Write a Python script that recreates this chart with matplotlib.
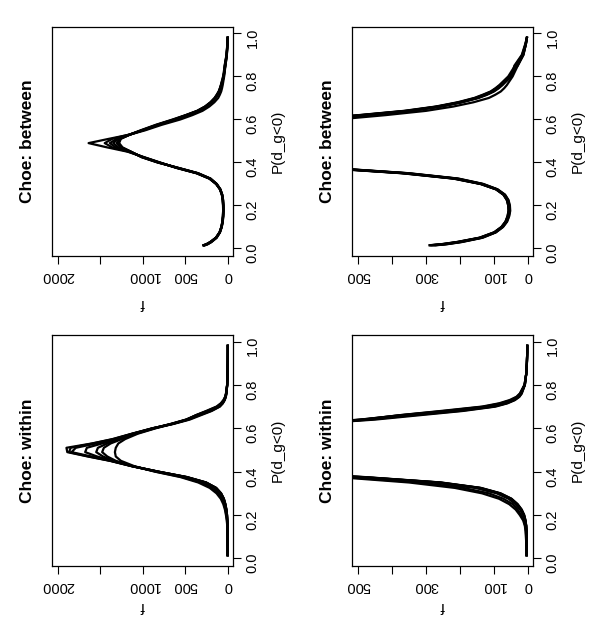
import matplotlib
matplotlib.use("Agg")
import matplotlib.pyplot as plt

plt.rcParams["font.family"] = ["Liberation Sans", "DejaVu Sans"]

# probability grid shared by all curves
p_grid = [0.015, 0.02, 0.03, 0.05, 0.075, 0.10, 0.125, 0.15, 0.175, 0.20, 0.225, 0.25,
          0.275, 0.30, 0.325, 0.35, 0.375, 0.40, 0.425, 0.45, 0.47, 0.49, 0.51, 0.53,
          0.55, 0.575, 0.60, 0.62, 0.64, 0.66, 0.68, 0.70, 0.715, 0.73, 0.745, 0.76,
          0.80, 0.85, 0.90, 0.95, 0.98]

# Choe: between
b1 = [290, 255, 210, 143, 100, 78, 66, 60, 57, 58, 62, 72, 94, 140, 220, 372, 610, 800,
      990, 1180, 1420, 1640, 1400, 1150, 970, 780, 560, 420, 300, 220, 160, 115, 96, 80,
      70, 62, 45, 30, 13, 6, 3]
b2 = [288, 253, 208, 142, 99, 78, 66, 60, 57, 58, 62, 72, 94, 139, 218, 369, 606, 805,
      995, 1170, 1360, 1450, 1360, 1160, 990, 810, 610, 475, 345, 255, 195, 148, 123, 102,
      88, 76, 50, 36, 15, 6, 3]
b3 = [285, 250, 205, 140, 98, 77, 65, 59, 56, 57, 61, 71, 93, 138, 215, 365, 600, 810,
      1000, 1160, 1320, 1390, 1310, 1155, 1000, 820, 620, 480, 345, 260, 195, 145, 120, 100,
      86, 75, 50, 32, 14, 6, 3]
b4 = [282, 247, 203, 139, 97, 76, 64, 58, 55, 56, 60, 70, 92, 137, 213, 362, 596, 815,
      1005, 1150, 1290, 1350, 1290, 1150, 1005, 825, 625, 485, 350, 262, 198, 150, 125, 104,
      90, 78, 52, 34, 16, 7, 3]
b5 = [278, 244, 200, 137, 96, 75, 63, 57, 54, 55, 59, 69, 91, 135, 210, 358, 592, 820,
      1010, 1145, 1265, 1310, 1275, 1150, 1010, 830, 630, 490, 355, 265, 200, 152, 127, 106,
      92, 80, 48, 40, 18, 8, 3]
b6 = [274, 240, 197, 135, 95, 74, 62, 56, 53, 54, 58, 68, 90, 133, 207, 354, 588, 825,
      1015, 1140, 1250, 1290, 1265, 1150, 1015, 840, 640, 495, 360, 268, 203, 155, 130, 108,
      94, 82, 55, 30, 14, 6, 3]
b7 = [270, 237, 194, 133, 94, 73, 61, 55, 52, 53, 57, 67, 89, 131, 204, 350, 584, 830,
      1020, 1140, 1240, 1280, 1260, 1155, 1025, 850, 650, 500, 365, 272, 207, 158, 133, 110,
      96, 84, 58, 38, 17, 7, 3]
between_curves = [b1, b2, b3, b4, b5, b6, b7]

# Choe: within
w1 = [3, 3, 3, 3, 3, 4, 4, 5, 7, 11, 18, 30, 48, 80, 138, 255, 480, 820, 1130, 1390,
      1650, 1890, 1900, 1600, 1360, 1130, 890, 640, 450, 320, 190, 95, 60, 38, 25, 18,
      9, 5, 3, 2, 2]
w2 = [3, 3, 3, 3, 4, 4, 4, 5, 7, 11, 19, 31, 49, 82, 140, 258, 485, 820, 1130, 1385,
      1640, 1870, 1850, 1590, 1350, 1125, 885, 655, 465, 338, 200, 100, 63, 40, 26, 19,
      9, 5, 3, 2, 2]
w3 = [4, 4, 4, 4, 4, 4, 4, 5, 8, 12, 20, 32, 50, 84, 142, 262, 490, 820, 1125, 1375,
      1610, 1840, 1790, 1550, 1330, 1120, 882, 662, 475, 352, 212, 105, 66, 42, 28, 20,
      9, 5, 3, 2, 2]
w4 = [4, 4, 4, 4, 4, 4, 4, 5, 8, 12, 20, 33, 52, 85, 145, 265, 495, 820, 1120, 1360,
      1540, 1680, 1660, 1480, 1300, 1110, 880, 670, 485, 362, 225, 112, 70, 44, 29, 21,
      9, 5, 3, 2, 2]
w5 = [4, 4, 4, 4, 4, 5, 5, 6, 9, 14, 23, 37, 57, 92, 155, 280, 510, 830, 1120, 1345,
      1470, 1550, 1530, 1420, 1270, 1095, 870, 675, 495, 372, 235, 120, 75, 46, 30, 22,
      10, 5, 3, 2, 2]
w6 = [4, 4, 4, 4, 5, 5, 6, 8, 12, 20, 30, 45, 72, 115, 190, 320, 540, 850, 1120, 1320,
      1420, 1480, 1460, 1380, 1250, 1080, 860, 660, 490, 378, 245, 128, 80, 50, 32, 23,
      10, 5, 3, 2, 2]
w7 = [4, 4, 4, 4, 5, 6, 7, 9, 14, 24, 36, 55, 85, 135, 215, 350, 560, 860, 1100, 1260,
      1320, 1330, 1320, 1290, 1210, 1060, 850, 650, 480, 380, 255, 135, 85, 54, 34, 24,
      10, 5, 3, 2, 2]
within_curves = [w1, w2, w3, w4, w5, w6, w7]

big_ticks = [0, 500, 1000, 1500, 2000]
big_labels = ["0", "500", "1000", "", "2000"]
small_ticks = [0, 100, 200, 300, 400, 500]
small_labels = ["0", "100", "", "300", "", "500"]
p_ticks = [0.0, 0.2, 0.4, 0.6, 0.8, 1.0]
p_labels = ["0.0", "0.2", "0.4", "0.6", "0.8", "1.0"]

W, H = 600, 618
fig = plt.figure(figsize=[W / 100, H / 100], dpi=100)


def draw_panel(left, top, bottom, curves, title, f_lim, f_ticks, f_labels, f_label_y):
    # the whole page is turned a quarter turn: P runs upward, f runs right-to-left
    ax = fig.add_axes([left / W, 1 - bottom / H, 181 / W, (bottom - top) / H])
    for f in curves:
        ax.plot(f, p_grid, color="black", lw=1.6)
    ax.set_xlim(f_lim)
    ax.set_ylim(-0.035, 1.03)
    ax.set_xticks(f_ticks)
    ax.set_xticklabels(f_labels)
    ax.set_yticks(p_ticks)
    ax.set_yticklabels(p_labels)
    ax.yaxis.tick_right()
    ax.tick_params(axis="x", labelrotation=180, length=6, width=0.8, pad=3, labelsize=10.5)
    ax.tick_params(axis="y", labelrotation=90, length=6, width=0.8, pad=3, labelsize=10.5)
    for s in ax.spines.values():
        s.set_linewidth(0.9)
    ax.text(-0.138, 0.5, title, rotation=90, ha="center", va="center",
            fontsize=12.5, fontweight="bold", transform=ax.transAxes)
    ax.text(1.25, 0.5, "P(d_g<0)", rotation=90, ha="center", va="center",
            fontsize=11, transform=ax.transAxes)
    ax.text(0.5, (bottom - f_label_y) / (bottom - top), "f", rotation=180,
            ha="center", va="center", fontsize=11, transform=ax.transAxes)
    return ax


draw_panel(52, 27, 256, between_curves, "Choe: between", (2070, -59),
           big_ticks, big_labels, 303)
draw_panel(352, 27, 256, between_curves, "Choe: between", (518, -15),
           small_ticks, small_labels, 303)
draw_panel(52, 335, 566, within_curves, "Choe: within", (2070, -59),
           big_ticks, big_labels, 606)
draw_panel(352, 335, 566, within_curves, "Choe: within", (518, -15),
           small_ticks, small_labels, 606)

fig.savefig("out.png", dpi=100)
plt.close()
